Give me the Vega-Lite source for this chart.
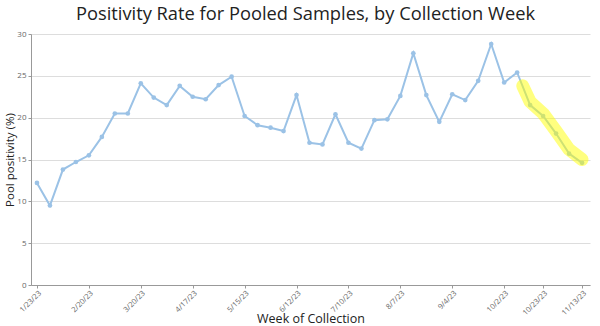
{
  "$schema": "https://vega.github.io/schema/vega-lite/v6.json",
  "width": 559,
  "height": 251,
  "autosize": {"type": "none"},
  "padding": {"left": 31, "top": 34, "right": 10, "bottom": 41},
  "background": "white",
  "title": {
    "text": "Positivity Rate for Pooled Samples, by Collection Week",
    "font": "Open Sans",
    "fontSize": 18.3,
    "fontWeight": "normal",
    "color": "#222222",
    "anchor": "middle",
    "dx": -5,
    "offset": 6
  },
  "config": {
    "view": {"stroke": null},
    "font": "Open Sans"
  },
  "datasets": {
    "main": [
      {"week": "2023-01-23", "rate": 12.2},
      {"week": "2023-01-30", "rate": 9.5},
      {"week": "2023-02-06", "rate": 13.8},
      {"week": "2023-02-13", "rate": 14.7},
      {"week": "2023-02-20", "rate": 15.5},
      {"week": "2023-02-27", "rate": 17.7},
      {"week": "2023-03-06", "rate": 20.5},
      {"week": "2023-03-13", "rate": 20.5},
      {"week": "2023-03-20", "rate": 24.1},
      {"week": "2023-03-27", "rate": 22.4},
      {"week": "2023-04-03", "rate": 21.5},
      {"week": "2023-04-10", "rate": 23.8},
      {"week": "2023-04-17", "rate": 22.5},
      {"week": "2023-04-24", "rate": 22.2},
      {"week": "2023-05-01", "rate": 23.9},
      {"week": "2023-05-08", "rate": 24.9},
      {"week": "2023-05-15", "rate": 20.2},
      {"week": "2023-05-22", "rate": 19.1},
      {"week": "2023-05-29", "rate": 18.8},
      {"week": "2023-06-05", "rate": 18.4},
      {"week": "2023-06-12", "rate": 22.7},
      {"week": "2023-06-19", "rate": 17.0},
      {"week": "2023-06-26", "rate": 16.8},
      {"week": "2023-07-03", "rate": 20.4},
      {"week": "2023-07-10", "rate": 17.0},
      {"week": "2023-07-17", "rate": 16.3},
      {"week": "2023-07-24", "rate": 19.7},
      {"week": "2023-07-31", "rate": 19.8},
      {"week": "2023-08-07", "rate": 22.6},
      {"week": "2023-08-14", "rate": 27.7},
      {"week": "2023-08-21", "rate": 22.7},
      {"week": "2023-08-28", "rate": 19.5},
      {"week": "2023-09-04", "rate": 22.8},
      {"week": "2023-09-11", "rate": 22.1},
      {"week": "2023-09-18", "rate": 24.4},
      {"week": "2023-09-25", "rate": 28.8},
      {"week": "2023-10-02", "rate": 24.2},
      {"week": "2023-10-09", "rate": 25.4},
      {"week": "2023-10-16", "rate": 21.5},
      {"week": "2023-10-23", "rate": 20.2},
      {"week": "2023-10-30", "rate": 18.1},
      {"week": "2023-11-06", "rate": 15.7},
      {"week": "2023-11-13", "rate": 14.6}
    ],
    "highlight": [
      {"week": "2023-10-12", "rate": 23.8},
      {"week": "2023-10-16", "rate": 21.9},
      {"week": "2023-10-23", "rate": 20.5},
      {"week": "2023-10-30", "rate": 18.4},
      {"week": "2023-11-06", "rate": 16.2},
      {"week": "2023-11-13", "rate": 15.0}
    ]
  },
  "encoding": {
    "x": {
      "field": "week",
      "type": "temporal",
      "scale": {
        "type": "utc",
        "domain": [
          {"year": 2023, "month": 1, "date": 19, "hours": 19, "utc": true},
          {"year": 2023, "month": 11, "date": 17, "hours": 7, "utc": true}
        ]
      },
      "axis": {
        "title": "Week of Collection",
        "titleFont": "Open Sans",
        "titleFontSize": 12.5,
        "titleFontWeight": "normal",
        "titleColor": "#222222",
        "titleY": 37,
        "titleBaseline": "alphabetic",
        "labelExpr": "utcFormat(datum.value, '%-m/%-d/%y')",
        "labelAngle": -45,
        "labelFontSize": 7.5,
        "labelColor": "#666666",
        "labelPadding": 1,
        "tickSize": 3,
        "tickColor": "#999999",
        "domainColor": "#999999",
        "grid": false,
        "values": [
          {"year": 2023, "month": 1, "date": 23, "utc": true},
          {"year": 2023, "month": 2, "date": 20, "utc": true},
          {"year": 2023, "month": 3, "date": 20, "utc": true},
          {"year": 2023, "month": 4, "date": 17, "utc": true},
          {"year": 2023, "month": 5, "date": 15, "utc": true},
          {"year": 2023, "month": 6, "date": 12, "utc": true},
          {"year": 2023, "month": 7, "date": 10, "utc": true},
          {"year": 2023, "month": 8, "date": 7, "utc": true},
          {"year": 2023, "month": 9, "date": 4, "utc": true},
          {"year": 2023, "month": 10, "date": 2, "utc": true},
          {"year": 2023, "month": 10, "date": 23, "utc": true},
          {"year": 2023, "month": 11, "date": 13, "utc": true}
        ]
      }
    },
    "y": {
      "field": "rate",
      "type": "quantitative",
      "scale": {"domain": [0, 30], "nice": false},
      "axis": {
        "title": "Pool positivity (%)",
        "titleFont": "Open Sans",
        "titleFontSize": 11.5,
        "titleFontWeight": "normal",
        "titleColor": "#222222",
        "titleX": -21,
        "titleBaseline": "middle",
        "values": [0, 5, 10, 15, 20, 25, 30],
        "labelFontSize": 8,
        "labelColor": "#666666",
        "labelPadding": 2,
        "tickSize": 3,
        "tickColor": "#999999",
        "domainColor": "#999999",
        "gridColor": "#dddddd",
        "gridWidth": 1.2
      }
    }
  },
  "layer": [
    {
      "data": {"name": "main"},
      "mark": {"type": "line", "color": "#9bc2e6", "strokeWidth": 2, "point": {"filled": true, "color": "#9bc2e6", "size": 22}}
    },
    {
      "data": {"name": "highlight"},
      "mark": {"type": "line", "color": "#ffff00", "opacity": 0.5, "strokeWidth": 13, "strokeCap": "round", "strokeJoin": "round"}
    }
  ]
}
